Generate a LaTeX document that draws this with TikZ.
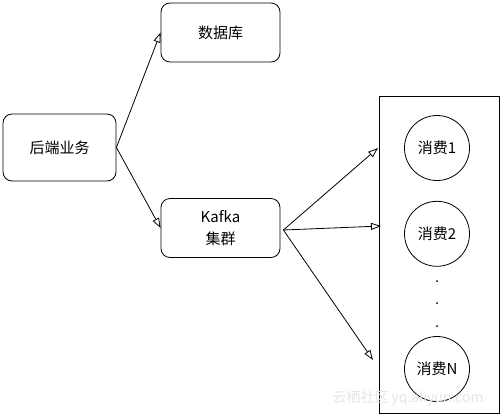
\documentclass[tikz,border=0pt]{standalone}
\usepackage{fontspec}
\setmainfont{Noto Sans CJK SC}
\usetikzlibrary{arrows.meta, positioning}

\begin{document}
\begin{tikzpicture}[
    x=1pt, y=-1pt,
    font=\fontsize{15}{22}\selectfont,
    box/.style={
        draw, line width=0.8pt, rounded corners=9pt,
        minimum width=119pt, minimum height=59pt,
        align=center, inner sep=0pt
    },
    consumer/.style={draw, line width=0.8pt, circle, minimum size=65pt, inner sep=0pt},
    arrow/.style={-{Triangle[open, length=10pt, width=7pt]}, line width=0.8pt}
]
\useasboundingbox (0,0) rectangle (501,416);

% -- left: backend --
\node[box, minimum width=113pt, minimum height=67pt] (backend) at (59.5,147.5) {后端业务};

% -- middle: database and kafka --
\node[box] (db) at (220.5,32.5) {数据库};
\node[box] (kafka) at (220.5,228) {Kafka\\集群};

% -- right: consumer group --
\node[draw, line width=0.8pt, minimum width=120pt, minimum height=317pt, inner sep=0pt] (group) at (439,254.5) {};
\node[consumer] (cons1) at (437,148) {消费1};
\node[consumer, below=20pt of cons1] (cons2) {消费2};
\node[consumer] (consN) at (437,369) {消费N};
\foreach \y in {281,303,326}
    \fill (437,\y) circle (1pt);

% -- arrow end points at the group --
\coordinate (in1) at (378,148);
\coordinate (in2) at (381,226);
\coordinate (inN) at (373,360);

% -- backend -> db / kafka --
\draw[arrow] (backend.east) -- (db.west);
\draw[arrow] (backend.east) -- (kafka.west);

% -- kafka -> consumers --
\draw[arrow] ([xshift=3pt,yshift=-2pt]kafka.east) -- (in1);
\draw[arrow] ([xshift=3pt,yshift=-2pt]kafka.east) -- (in2);
\draw[arrow] ([xshift=3pt,yshift=-2pt]kafka.east) -- (inN);

% -- watermark --
\node[text=black!10, font=\fontsize{14}{16}\selectfont] (mark) at (408,398) {云栖社区 yq.aliyun.com};

\end{tikzpicture}
\end{document}
